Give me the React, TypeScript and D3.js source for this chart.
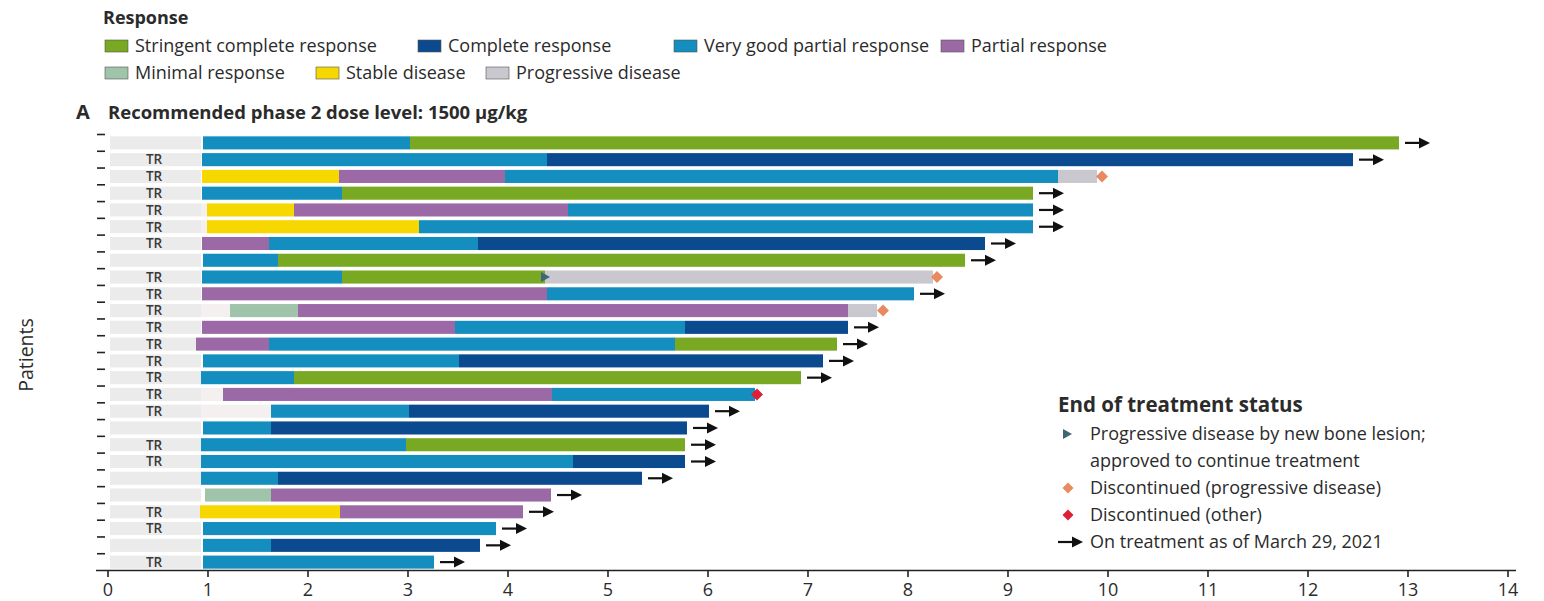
import React from "react";
import * as d3 from "d3";

// ---------- DATA ----------
const responseKeys = ["sCR", "CR", "VGPR", "PR", "MR", "SD", "PD"];
const responseLabels = [
  "Stringent complete response",
  "Complete response",
  "Very good partial response",
  "Partial response",
  "Minimal response",
  "Stable disease",
  "Progressive disease",
];
const responseColors = ["#79a922", "#0c4a8f", "#138ebf", "#9b6aa6", "#a0c4aa", "#f6d800", "#c9c8ce"];

const patients = d3.range(1, 27).map((i) => "P" + i);

const trFlags = [
  false, true, true, true, true, true, true, false, true, true, true, true, true,
  true, true, true, true, false, true, true, false, false, true, true, false, true,
];

// [response, start (months), end (months)]
const segments: [string, number, number][][] = [
  [["VGPR", 0.95, 3.02], ["sCR", 3.02, 12.91]],
  [["VGPR", 0.94, 4.39], ["CR", 4.39, 12.45]],
  [["SD", 0.94, 2.31], ["PR", 2.31, 3.97], ["VGPR", 3.97, 9.5], ["PD", 9.5, 9.89]],
  [["VGPR", 0.94, 2.34], ["sCR", 2.34, 9.25]],
  [["SD", 0.99, 1.86], ["PR", 1.86, 4.6], ["VGPR", 4.6, 9.25]],
  [["SD", 0.99, 3.11], ["VGPR", 3.11, 9.25]],
  [["PR", 0.94, 1.61], ["VGPR", 1.61, 3.7], ["CR", 3.7, 8.77]],
  [["VGPR", 0.95, 1.7], ["sCR", 1.7, 8.57]],
  [["VGPR", 0.94, 2.34], ["sCR", 2.34, 4.37], ["PD", 4.37, 8.25]],
  [["PR", 0.94, 4.39], ["VGPR", 4.39, 8.06]],
  [["MR", 1.22, 1.9], ["PR", 1.9, 7.4], ["PD", 7.4, 7.69]],
  [["PR", 0.94, 3.47], ["VGPR", 3.47, 5.77], ["CR", 5.77, 7.4]],
  [["PR", 0.88, 1.61], ["VGPR", 1.61, 5.67], ["sCR", 5.67, 7.29]],
  [["VGPR", 0.95, 3.51], ["CR", 3.51, 7.15]],
  [["VGPR", 0.93, 1.86], ["sCR", 1.86, 6.93]],
  [["PR", 1.15, 4.44], ["VGPR", 4.44, 6.47]],
  [["VGPR", 1.63, 3.01], ["CR", 3.01, 6.01]],
  [["VGPR", 0.95, 1.63], ["CR", 1.63, 5.79]],
  [["VGPR", 0.93, 2.98], ["sCR", 2.98, 5.77]],
  [["VGPR", 0.93, 4.65], ["CR", 4.65, 5.77]],
  [["VGPR", 0.93, 1.7], ["CR", 1.7, 5.34]],
  [["MR", 0.97, 1.63], ["PR", 1.63, 4.43]],
  [["SD", 0.92, 2.32], ["PR", 2.32, 4.15]],
  [["VGPR", 0.95, 3.88]],
  [["VGPR", 0.95, 1.63], ["CR", 1.63, 3.72]],
  [["VGPR", 0.95, 3.26]],
];

// end of treatment status per patient
const endStatus = [
  "on", "on", "discPD", "on", "on", "on", "on", "on", "discPD", "on", "discPD", "on", "on",
  "on", "on", "discOther", "on", "on", "on", "on", "on", "on", "on", "on", "on", "on",
];
const endMarkerValue = [
  12.91, 12.45, 9.94, 9.25, 9.25, 9.25, 8.77, 8.57, 8.29, 8.06, 7.75, 7.4, 7.29,
  7.15, 6.93, 6.49, 6.01, 5.79, 5.77, 5.77, 5.34, 4.43, 4.15, 3.88, 3.72, 3.26,
];
// progressive disease by new bone lesion (approved to continue)
const boneLesionPatients = ["P9"];
const boneLesionValues = [4.37];

const screeningEnd = 0.93;
const xTicks = d3.range(0, 15);

const statusLabels = [
  "Progressive disease by new bone lesion;",
  "approved to continue treatment",
  "Discontinued (progressive disease)",
  "Discontinued (other)",
  "On treatment as of March 29, 2021",
];

// ---------- CHART ----------
const W = 1544;
const H = 601;
const FONT = "'Open Sans', 'Noto Sans', sans-serif";
const TEXT = "#2b2b2b";
const LEG_FS = 18;

export default function App() {
  const x = d3.scaleLinear().domain([0, 14]).range([108, 1508]);
  const y = d3.scaleBand<string>().domain(patients).range([134.5, 570.5]).paddingInner(0.22).paddingOuter(0.11);
  const color = d3.scaleOrdinal<string, string>().domain(responseKeys).range(responseColors);
  const bh = y.bandwidth();
  const step = y.step();

  const arrow = (x0: number, cy: number, key: string) => (
    <g key={key}>
      <line x1={x0} x2={x0 + 16} y1={cy} y2={cy} stroke="#111" strokeWidth={2.2} />
      <path d={`M${x0 + 14},${cy - 5.5} L${x0 + 25},${cy} L${x0 + 14},${cy + 5.5} Z`} fill="#111" />
    </g>
  );
  const diamond = (cx: number, cy: number, r: number, fill: string, key: string) => (
    <path key={key} d={`M${cx},${cy - r} L${cx + r},${cy} L${cx},${cy + r} L${cx - r},${cy} Z`} fill={fill} />
  );
  const triangle = (cx: number, cy: number, key: string) => (
    <path key={key} d={`M${cx - 4},${cy - 5} L${cx + 5},${cy} L${cx - 4},${cy + 5} Z`} fill="#3f6677" />
  );

  const legendRow1 = [0, 1, 2, 3];
  const legendRow2 = [4, 5, 6];
  const row1X = [105, 418, 674, 941];
  const row2X = [105, 316, 486];

  return (
    <svg width={W} height={H} style={{ position: "absolute", left: 0, top: 0, background: "#fff" }} fontFamily={FONT}>
      {/* Response legend */}
      <text x={103} y={24} fontSize={18} fontWeight={700} fill={TEXT}>Response</text>
      {legendRow1.map((k, i) => (
        <g key={"l1" + k}>
          <rect x={row1X[i]} y={40} width={23} height={12} fill={responseColors[k]} stroke="#555" strokeWidth={0.6} />
          <text x={row1X[i] + 30} y={52} fontSize={LEG_FS} fill={TEXT}>{responseLabels[k]}</text>
        </g>
      ))}
      {legendRow2.map((k, i) => (
        <g key={"l2" + k}>
          <rect x={row2X[i]} y={67} width={23} height={12} fill={responseColors[k]} stroke="#555" strokeWidth={0.6} />
          <text x={row2X[i] + 30} y={79} fontSize={LEG_FS} fill={TEXT}>{responseLabels[k]}</text>
        </g>
      ))}

      {/* Panel title */}
      <text x={76} y={119} fontSize={20} fontWeight={700} fill={TEXT}>A</text>
      <text x={108} y={119} fontSize={18.5} fontWeight={700} fill={TEXT}>Recommended phase 2 dose level: 1500 µg/kg</text>

      {/* Y axis label */}
      <text transform={`translate(33,${355}) rotate(-90)`} textAnchor="middle" fontSize={19.5} fill={TEXT}>Patients</text>

      {/* y tick marks at row boundaries */}
      {patients.map((p) => (
        <line key={"yt" + p} x1={97} x2={105} y1={(y(p) as number) - (step - bh) / 2} y2={(y(p) as number) - (step - bh) / 2} stroke="#222" strokeWidth={1.6} />
      ))}

      {/* rows */}
      {patients.map((p, i) => {
        const yy = y(p) as number;
        const start = segments[i][0][1];
        const last = segments[i][segments[i].length - 1];
        const cy = yy + bh / 2;
        return (
          <g key={p}>
            <rect x={x(0) + 2} y={yy} width={x(Math.min(start, screeningEnd)) - x(0) - 2} height={bh} fill="#ebebeb" />
            {start > screeningEnd + 0.05 && (
              <rect x={x(screeningEnd)} y={yy} width={x(start) - x(screeningEnd)} height={bh} fill="#f4f0f0" />
            )}
            {trFlags[i] && (
              <text x={154} y={cy + 4.8} textAnchor="middle" fontSize={13.5} fontWeight={600} fill="#3a3a3a">TR</text>
            )}
            {segments[i].map(([k, s, e], j) => (
              <rect key={j} x={x(s)} y={yy} width={x(e) - x(s)} height={bh} fill={color(k)} />
            ))}
            {endStatus[i] === "on" && arrow(x(last[2]) + 6, cy, "a" + p)}
            {endStatus[i] === "discPD" && diamond(x(endMarkerValue[i]), cy, 6, "#e8895f", "d" + p)}
            {endStatus[i] === "discOther" && diamond(x(endMarkerValue[i]), cy, 6, "#de1f38", "d" + p)}
          </g>
        );
      })}
      {boneLesionPatients.map((p, i) => triangle(x(boneLesionValues[i]), (y(p) as number) + bh / 2, "t" + p))}

      {/* X axis */}
      <line x1={96} x2={1516} y1={570.5} y2={570.5} stroke="#222" strokeWidth={1.6} />
      {xTicks.map((t) => (
        <g key={"xt" + t}>
          <line x1={x(t)} x2={x(t)} y1={570.5} y2={577} stroke="#222" strokeWidth={1.6} />
          <text x={x(t)} y={596} textAnchor="middle" fontSize={18} fill={TEXT}>{t}</text>
        </g>
      ))}

      {/* End of treatment legend */}
      <text x={1058} y={412} fontSize={20.5} fontWeight={700} fill={TEXT}>End of treatment status</text>
      {triangle(1067, 434, "lt")}
      <text x={1090} y={440} fontSize={LEG_FS} fill={TEXT}>{statusLabels[0]}</text>
      <text x={1090} y={467} fontSize={LEG_FS} fill={TEXT}>{statusLabels[1]}</text>
      {diamond(1068, 488, 5.5, "#e8895f", "ld1")}
      <text x={1090} y={494} fontSize={LEG_FS} fill={TEXT}>{statusLabels[2]}</text>
      {diamond(1068, 515, 5.5, "#de1f38", "ld2")}
      <text x={1090} y={521} fontSize={LEG_FS} fill={TEXT}>{statusLabels[3]}</text>
      {arrow(1058, 542, "la")}
      <text x={1090} y={548} fontSize={LEG_FS} fill={TEXT}>{statusLabels[4]}</text>
    </svg>
  );
}
